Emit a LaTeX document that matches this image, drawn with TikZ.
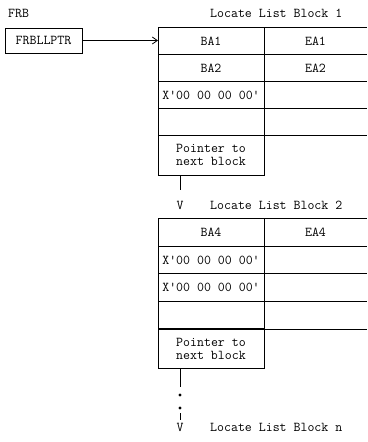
\documentclass[tikz,border=0pt]{standalone}
\usetikzlibrary{arrows.meta}
\begin{document}
\begin{tikzpicture}[x=1pt,y=-1pt,
  every node/.style={font=\ttfamily\fontsize{13.5}{13}\selectfont, inner sep=0pt},
  rule/.style={line width=0.8pt},
  lbl/.style={anchor=west},
  cell/.style={anchor=center},
  ptrbox/.style={draw, line width=0.8pt, minimum width=106pt, minimum height=40pt, align=center},
  framebox/.style={draw, line width=0.8pt, minimum width=77pt, minimum height=25pt}]
\useasboundingbox (0,0) rectangle (367,442);

% FRB
\node[lbl] (frb) at (8,13) {FRB};
\node[framebox] (frbll) at (43.5,40.5) {FRBLLPTR};
\coordinate (b1in) at (158,40.5);
\draw[rule,-{Straight Barb[length=5pt,width=7pt]}] (frbll.east) -- (b1in);

% Block 1
\node[lbl] (t1) at (210,13) {Locate List Block 1};
\draw[rule] (158,27) -- (367,27);
\draw[rule] (158,54) -- (367,54);
\draw[rule] (158,81) -- (367,81);
\draw[rule] (158,108) -- (367,108);
\draw[rule] (158,135) -- (367,135);
\draw[rule] (158,27) -- (158,135);
\draw[rule] (264,27) -- (264,135);
\node[cell] (ba1) at (211,41) {BA1};
\node[cell] (ea1) at (315.5,41) {EA1};
\node[cell] (ba2) at (211,68) {BA2};
\node[cell] (ea2) at (315.5,68) {EA2};
\node[cell] (z1) at (211,95) {X'00 00 00 00'};
\node[ptrbox] (ptr1) at (211,155) {Pointer to\\next block};

\coordinate (c1) at (180,190);
\draw[rule] (ptr1.south -| c1) -- (c1);
\node[cell] (v1) at (180,205) {V};

% Block 2
\node[lbl] (t2) at (210,205) {Locate List Block 2};
\draw[rule] (158,218) -- (367,218);
\draw[rule] (158,246) -- (367,246);
\draw[rule] (158,273.5) -- (367,273.5);
\draw[rule] (158,301) -- (367,301);
\draw[rule] (158,329) -- (367,329);
\draw[rule] (158,218) -- (158,329);
\draw[rule] (264,218) -- (264,329);
\node[cell] (ba4) at (211,232.5) {BA4};
\node[cell] (ea4) at (315.5,232.5) {EA4};
\node[cell] (z2) at (211,260) {X'00 00 00 00'};
\node[cell] (z3) at (211,287) {X'00 00 00 00'};
\node[ptrbox] (ptr2) at (211,348.5) {Pointer to\\next block};

\coordinate (c2) at (180,387);
\draw[rule] (ptr2.south -| c2) -- (c2);
\fill (180,395) circle (1.6pt);
\fill (180,408) circle (1.6pt);
\coordinate (c3) at (180,413);
\coordinate (c4) at (180,420);
\draw[rule] (c3) -- (c4);
\node[cell] (v2) at (180,427) {V};
\node[lbl] (tn) at (210,427) {Locate List Block n};
\end{tikzpicture}
\end{document}
